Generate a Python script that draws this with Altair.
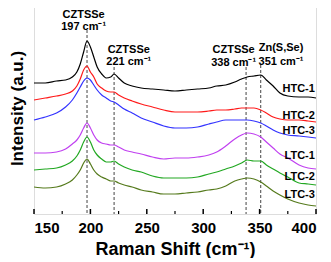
import altair as alt
import pandas as pd

# Raman shift grid (cm-1)
shift = [150, 160, 170, 178, 184, 188, 191, 194, 197, 200, 203, 206, 210, 214, 218, 221, 225, 230, 237, 245,
         255, 265, 275, 285, 295, 305, 312, 320, 328, 334, 339, 345, 351, 356, 362, 368, 375, 385, 393, 400]

# Stacked intensities (a.u.)
htc1 = [131, 131, 133, 134, 137, 142, 150, 162, 173, 167, 157, 147, 140, 136, 137, 140, 136, 131, 128, 126,
        125, 124, 123, 124, 125, 126, 128, 129, 132, 135, 137, 138, 139, 134, 128, 121, 118, 117, 117, 116]
htc2 = [114, 116, 118, 120, 123, 128, 135, 144, 148, 142, 137, 130, 126, 123, 122, 122, 119, 116, 113, 110,
        107, 104, 102, 102, 102, 103, 104, 104, 105, 106, 106, 106, 104, 101, 97, 95, 94, 94, 93, 92]
htc3 = [94, 97, 101, 107, 114, 121, 127, 133, 136, 134, 129, 124, 119, 116, 113, 112, 109, 105, 101, 96,
        92, 88, 86, 86, 87, 90, 92, 94, 94, 94, 94, 93, 91, 88, 84, 81, 79, 78, 77, 76]
ltc1 = [61, 61, 62, 65, 70, 74, 79, 86, 91, 86, 79, 74, 71, 70, 69, 69, 67, 64, 62, 60,
        57, 55, 56, 56, 57, 59, 62, 68, 75, 79, 81, 80, 77, 72, 66, 60, 56, 49, 46, 45]
ltc2 = [44, 45, 46, 49, 53, 58, 64, 72, 77, 72, 64, 59, 55, 52, 52, 53, 50, 47, 44, 42,
        38, 36, 36, 36, 37, 40, 42, 45, 48, 51, 54, 53, 53, 49, 45, 41, 37, 31, 30, 29]
ltc3 = [27, 26, 27, 30, 34, 39, 44, 51, 55, 50, 44, 40, 37, 35, 33, 33, 31, 29, 27, 24,
        22, 20, 20, 21, 22, 24, 25, 28, 33, 35, 36, 35, 32, 28, 23, 19, 15, 11, 9, 8]

series_names = ["HTC-1", "HTC-2", "HTC-3", "LTC-1", "LTC-2", "LTC-3"]
series_vals = [htc1, htc2, htc3, ltc1, ltc2, ltc3]
series_colors = ["#000000", "#ff1a1a", "#3333ff", "#c040f0", "#22a822", "#557a1c"]

# sample labels on the right
label_x = [399] * 6
label_y = [125, 98, 83, 58, 37, 19]

# peak markers
peak_pos = [197, 221, 338, 351]
peak_top = [184, 147, 147, 149]
peak_name = ["CZTSSe", "CZTSSe", "CZTSSe", "Zn(S,Se)"]
peak_name_x = [194, 234, 327, 369]
peak_name_y = [199, 164, 164, 166]
peak_wn = ["197 cm⁻¹", "221 cm⁻¹", "338 cm⁻¹", "351 cm⁻¹"]
peak_wn_y = [187, 152, 151, 152]

major_ticks = [150, 200, 250, 300, 350, 400]
minor_ticks = [175, 225, 275, 325, 375]

FONT = "Liberation Sans"

rows = []
for name, vals in zip(series_names, series_vals):
    for s, v in zip(shift, vals):
        rows.append({"shift": s, "intensity": v, "sample": name})
df = pd.DataFrame(rows)

xs = alt.Scale(domain=[150, 400], nice=False, zero=False)
ys = alt.Scale(domain=[0, 212], nice=False, zero=False)

lines = alt.Chart(df).mark_line(strokeWidth=1.2, interpolate="monotone").encode(
    x=alt.X("shift:Q", scale=xs,
            axis=alt.Axis(values=major_ticks, ticks=False, domain=False, grid=False,
                          labelFont=FONT, labelFontSize=15, labelFontWeight="bold", labelColor="#000",
                          labelPadding=6, title="Raman Shift (cm⁻¹)", titleFont=FONT,
                          titleFontSize=18, titleFontWeight="bold", titleColor="#000", titlePadding=5)),
    y=alt.Y("intensity:Q", scale=ys,
            axis=alt.Axis(labels=False, ticks=False, domain=False, grid=False,
                          title="Intensity (a.u.)", titleFont=FONT, titleFontSize=17,
                          titleFontWeight="bold", titleColor="#000", titlePadding=8)),
    color=alt.Color("sample:N", scale=alt.Scale(domain=series_names, range=series_colors), legend=None),
    detail="sample:N",
)

peaks_df = pd.DataFrame({"pos": peak_pos, "top": peak_top, "name": peak_name, "nx": peak_name_x,
                         "ny": peak_name_y, "wn": peak_wn, "wy": peak_wn_y})

dashes = alt.Chart(peaks_df).mark_rule(color="#444444", strokeWidth=1, strokeDash=[3, 2]).encode(
    x=alt.X("pos:Q", scale=xs), y=alt.Y("top:Q", scale=ys), y2=alt.datum(0)
)

names = alt.Chart(peaks_df).mark_text(font=FONT, fontSize=11, fontWeight="bold", color="#000",
                                      align="center", baseline="middle").encode(
    x=alt.X("nx:Q", scale=xs), y=alt.Y("ny:Q", scale=ys), text="name:N"
)
wns = alt.Chart(peaks_df).mark_text(font=FONT, fontSize=11, fontWeight="bold", color="#000",
                                    align="center", baseline="middle").encode(
    x=alt.X("nx:Q", scale=xs), y=alt.Y("wy:Q", scale=ys), text="wn:N"
)

labels_df = pd.DataFrame({"x": label_x, "y": label_y, "t": series_names})
labels = alt.Chart(labels_df).mark_text(font=FONT, fontSize=11, fontWeight="bold", color="#000",
                                        align="right", baseline="middle").encode(
    x=alt.X("x:Q", scale=xs), y=alt.Y("y:Q", scale=ys), text="t:N"
)

major = alt.Chart(pd.DataFrame({"t": major_ticks})).mark_rule(color="#000", strokeWidth=1.5).encode(
    x=alt.X("t:Q", scale=xs), y=alt.value(212), y2=alt.value(207)
)
minor = alt.Chart(pd.DataFrame({"t": minor_ticks})).mark_rule(color="#000", strokeWidth=1.2).encode(
    x=alt.X("t:Q", scale=xs), y=alt.value(212), y2=alt.value(209)
)

chart = alt.layer(dashes, lines, major, minor, names, wns, labels).properties(
    width=282, height=212,
    padding={"left": 0, "top": -6, "right": 0, "bottom": 0},
).configure_view(stroke="#000", strokeWidth=1.5).configure(background="white")

chart.save("out.html", embed_options={"renderer": "svg", "actions": False})
